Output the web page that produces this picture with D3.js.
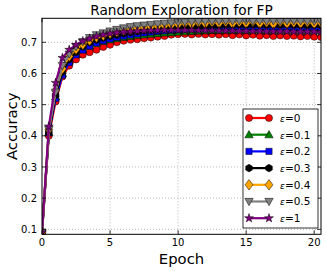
<!DOCTYPE html>
<html>
<head>
<meta charset="utf-8">
<script src="https://cdn.jsdelivr.net/npm/d3@7"></script>
<style>
  body { margin: 0; background: #fff; }
  svg { display: block; font-family: 'DejaVu Sans', sans-serif; }
</style>
</head>
<body>
<svg id="chart" width="326" height="271"></svg>
<script>
const epochs = [0, 0.5, 1, 1.5, 2, 2.5, 3, 3.5, 4, 4.5, 5, 5.5, 6, 6.5, 7, 7.5, 8, 8.5, 9, 9.5, 10,
  10.5, 11, 11.5, 12, 12.5, 13, 13.5, 14, 14.5, 15, 15.5, 16, 16.5, 17, 17.5, 18, 18.5, 19, 19.5, 20, 20.5];

const eps0 = [0.090, 0.400, 0.510, 0.590, 0.625, 0.645, 0.660, 0.668, 0.676, 0.685,
  0.692, 0.700, 0.705, 0.708, 0.710, 0.713, 0.715, 0.718, 0.720, 0.724,
  0.726, 0.727, 0.725, 0.727, 0.725, 0.726, 0.724, 0.726, 0.723, 0.725,
  0.722, 0.724, 0.721, 0.723, 0.720, 0.722, 0.720, 0.721, 0.719, 0.720, 0.718, 0.717];
const eps01 = [0.090, 0.410, 0.525, 0.600, 0.640, 0.663, 0.678, 0.688, 0.697, 0.703,
  0.708, 0.712, 0.716, 0.719, 0.722, 0.724, 0.726, 0.728, 0.730, 0.731,
  0.733, 0.734, 0.735, 0.736, 0.737, 0.738, 0.738, 0.739, 0.739, 0.740,
  0.739, 0.740, 0.740, 0.739, 0.740, 0.739, 0.740, 0.739, 0.739, 0.738, 0.739, 0.738];
const eps02 = [0.090, 0.410, 0.520, 0.595, 0.635, 0.660, 0.675, 0.688, 0.698, 0.705,
  0.711, 0.716, 0.720, 0.724, 0.727, 0.730, 0.733, 0.735, 0.737, 0.739,
  0.741, 0.742, 0.744, 0.745, 0.746, 0.747, 0.747, 0.748, 0.748, 0.749,
  0.748, 0.749, 0.749, 0.748, 0.749, 0.748, 0.749, 0.748, 0.748, 0.747, 0.748, 0.747];
const eps03 = [0.090, 0.410, 0.530, 0.605, 0.645, 0.668, 0.686, 0.700, 0.708, 0.714,
  0.720, 0.724, 0.728, 0.732, 0.735, 0.738, 0.740, 0.742, 0.744, 0.746,
  0.748, 0.749, 0.751, 0.752, 0.753, 0.754, 0.754, 0.755, 0.755, 0.756,
  0.755, 0.756, 0.756, 0.755, 0.756, 0.755, 0.756, 0.755, 0.755, 0.754, 0.755, 0.754];
const eps04 = [0.090, 0.420, 0.545, 0.615, 0.655, 0.678, 0.693, 0.706, 0.716, 0.722,
  0.728, 0.734, 0.739, 0.742, 0.745, 0.748, 0.750, 0.752, 0.754, 0.756,
  0.758, 0.762, 0.759, 0.764, 0.760, 0.765, 0.761, 0.766, 0.760, 0.765,
  0.761, 0.767, 0.760, 0.764, 0.759, 0.766, 0.760, 0.764, 0.761, 0.765, 0.760, 0.763];
const eps05 = [0.090, 0.420, 0.540, 0.625, 0.662, 0.686, 0.702, 0.715, 0.724, 0.730,
  0.736, 0.741, 0.746, 0.750, 0.753, 0.755, 0.757, 0.759, 0.761, 0.762,
  0.764, 0.765, 0.766, 0.767, 0.767, 0.768, 0.768, 0.769, 0.768, 0.769,
  0.769, 0.768, 0.769, 0.768, 0.769, 0.768, 0.768, 0.769, 0.768, 0.768, 0.767, 0.767];
const eps1 = [0.090, 0.430, 0.570, 0.650, 0.676, 0.692, 0.704, 0.712, 0.719, 0.724,
  0.728, 0.731, 0.733, 0.735, 0.736, 0.737, 0.738, 0.738, 0.739, 0.739,
  0.739, 0.739, 0.739, 0.738, 0.738, 0.738, 0.737, 0.737, 0.737, 0.736,
  0.736, 0.736, 0.736, 0.735, 0.735, 0.735, 0.735, 0.734, 0.734, 0.734, 0.734, 0.733];

const seriesNames = ['0', '0.1', '0.2', '0.3', '0.4', '0.5', '1'];
const seriesValues = [eps0, eps01, eps02, eps03, eps04, eps05, eps1];
const xTicks = [0, 5, 10, 15, 20];
const yTicks = [0.1, 0.2, 0.3, 0.4, 0.5, 0.6, 0.7];

const colors = ['#ff0000', '#008000', '#0000ff', '#000000', '#ffa500', '#808080', '#800080'];
const markers = ['circle', 'triangleUp', 'square', 'hexagon', 'diamond', 'triangleDown', 'star'];

const svg = d3.select('#chart');
const pLeft = 42, pRight = 321, pTop = 18.3, pBottom = 234.3;

const x = d3.scaleLinear().domain([0, 20.5]).range([pLeft, pRight]);
const y = d3.scaleLinear().domain([0.084, 0.777]).range([pBottom, pTop]);

// clip for plot area
svg.append('clipPath').attr('id', 'clip')
  .append('rect').attr('x', pLeft).attr('y', pTop).attr('width', pRight - pLeft).attr('height', pBottom - pTop);

// grid
const grid = svg.append('g');
grid.selectAll('line.gx').data(xTicks.slice(1)).join('line').attr('class', 'gx')
  .attr('x1', d => x(d)).attr('x2', d => x(d)).attr('y1', pTop).attr('y2', pBottom)
  .attr('stroke', '#888').attr('stroke-width', 0.6).attr('stroke-dasharray', '1,2');
grid.selectAll('line.gy').data(yTicks).join('line').attr('class', 'gy')
  .attr('y1', d => y(d)).attr('y2', d => y(d)).attr('x1', pLeft).attr('x2', pRight)
  .attr('stroke', '#888').attr('stroke-width', 0.6).attr('stroke-dasharray', '1,2');

function markerPath(kind, s) {
  if (kind === 'circle') return d3.symbol(d3.symbolCircle, s * s * 0.8)();
  if (kind === 'square') return d3.symbol(d3.symbolSquare, s * s * 0.8)();
  if (kind === 'diamond') {
    const r = s * 0.75;
    return `M0,${-r}L${r * 0.75},0L0,${r}L${-r * 0.75},0Z`;
  }
  if (kind === 'star') return d3.symbol(d3.symbolStar, s * s * 0.5)();
  if (kind === 'hexagon') {
    const r = s * 0.55;
    const pts = d3.range(6).map(i => {
      const a = Math.PI / 6 + i * Math.PI / 3;
      return [r * Math.cos(a), r * Math.sin(a)];
    });
    return 'M' + pts.join('L') + 'Z';
  }
  const r = s * 0.6;
  if (kind === 'triangleUp') return `M0,${-r}L${r},${r * 0.75}L${-r},${r * 0.75}Z`;
  return `M0,${r}L${r},${-r * 0.75}L${-r},${-r * 0.75}Z`;
}

const line = d3.line().x((d, i) => x(epochs[i])).y(d => y(d));
const plot = svg.append('g').attr('clip-path', 'url(#clip)');

seriesValues.forEach((vals, k) => {
  const g = plot.append('g');
  g.append('path').datum(vals).attr('d', line)
    .attr('fill', 'none').attr('stroke', colors[k]).attr('stroke-width', 2.2)
    .attr('stroke-linejoin', 'round');
  g.selectAll('path.m').data(vals).join('path').attr('class', 'm')
    .attr('transform', (d, i) => `translate(${x(epochs[i])},${y(d)})`)
    .attr('d', markerPath(markers[k], 7))
    .attr('fill', colors[k]).attr('stroke', '#000').attr('stroke-width', 0.5);
});

// frame
svg.append('rect').attr('x', pLeft).attr('y', pTop).attr('width', pRight - pLeft).attr('height', pBottom - pTop)
  .attr('fill', 'none').attr('stroke', '#000').attr('stroke-width', 1);

// ticks (inward, on all sides)
const ticks = svg.append('g').attr('stroke', '#000').attr('stroke-width', 0.8);
xTicks.forEach(t => {
  ticks.append('line').attr('x1', x(t)).attr('x2', x(t)).attr('y1', pBottom).attr('y2', pBottom - 4);
  ticks.append('line').attr('x1', x(t)).attr('x2', x(t)).attr('y1', pTop).attr('y2', pTop + 4);
});
yTicks.forEach(t => {
  ticks.append('line').attr('y1', y(t)).attr('y2', y(t)).attr('x1', pLeft).attr('x2', pLeft + 4);
  ticks.append('line').attr('y1', y(t)).attr('y2', y(t)).attr('x1', pRight).attr('x2', pRight - 4);
});

svg.append('g').selectAll('text').data(xTicks).join('text')
  .attr('x', d => x(d)).attr('y', 246).attr('text-anchor', 'middle')
  .attr('font-size', 10).text(d => d);
svg.append('g').selectAll('text').data(yTicks).join('text')
  .attr('x', 37).attr('y', d => y(d) + 3.6).attr('text-anchor', 'end')
  .attr('font-size', 10).text(d => d3.format('.1f')(d));

svg.append('text').attr('x', (pLeft + pRight) / 2).attr('y', 15).attr('text-anchor', 'middle')
  .attr('font-size', 13.7).text('Random Exploration for FP');
svg.append('text').attr('x', (pLeft + pRight) / 2).attr('y', 263.5).attr('text-anchor', 'middle')
  .attr('font-size', 14.8).text('Epoch');
svg.append('text').attr('transform', `translate(17,${(pTop + pBottom) / 2}) rotate(-90)`)
  .attr('text-anchor', 'middle').attr('font-size', 14.8).text('Accuracy');

// legend
const lg = svg.append('g');
lg.append('rect').attr('x', 243).attr('y', 109).attr('width', 75).attr('height', 119)
  .attr('fill', '#fff').attr('stroke', '#000').attr('stroke-width', 0.8);
seriesNames.forEach((name, k) => {
  const yy = 118 + k * 16.7;
  lg.append('line').attr('x1', 249).attr('x2', 269).attr('y1', yy).attr('y2', yy)
    .attr('stroke', colors[k]).attr('stroke-width', 2.2);
  [249, 269].forEach(xx => {
    lg.append('path').attr('transform', `translate(${xx},${yy})`)
      .attr('d', markerPath(markers[k], 7))
      .attr('fill', colors[k]).attr('stroke', '#000').attr('stroke-width', 0.5);
  });
  const t = lg.append('text').attr('x', 280).attr('y', yy + 3.8).attr('font-size', 10.5);
  t.append('tspan').attr('font-style', 'italic').attr('font-size', 9).text('ε');
  t.append('tspan').text('=' + name);
});
</script>
</body>
</html>
